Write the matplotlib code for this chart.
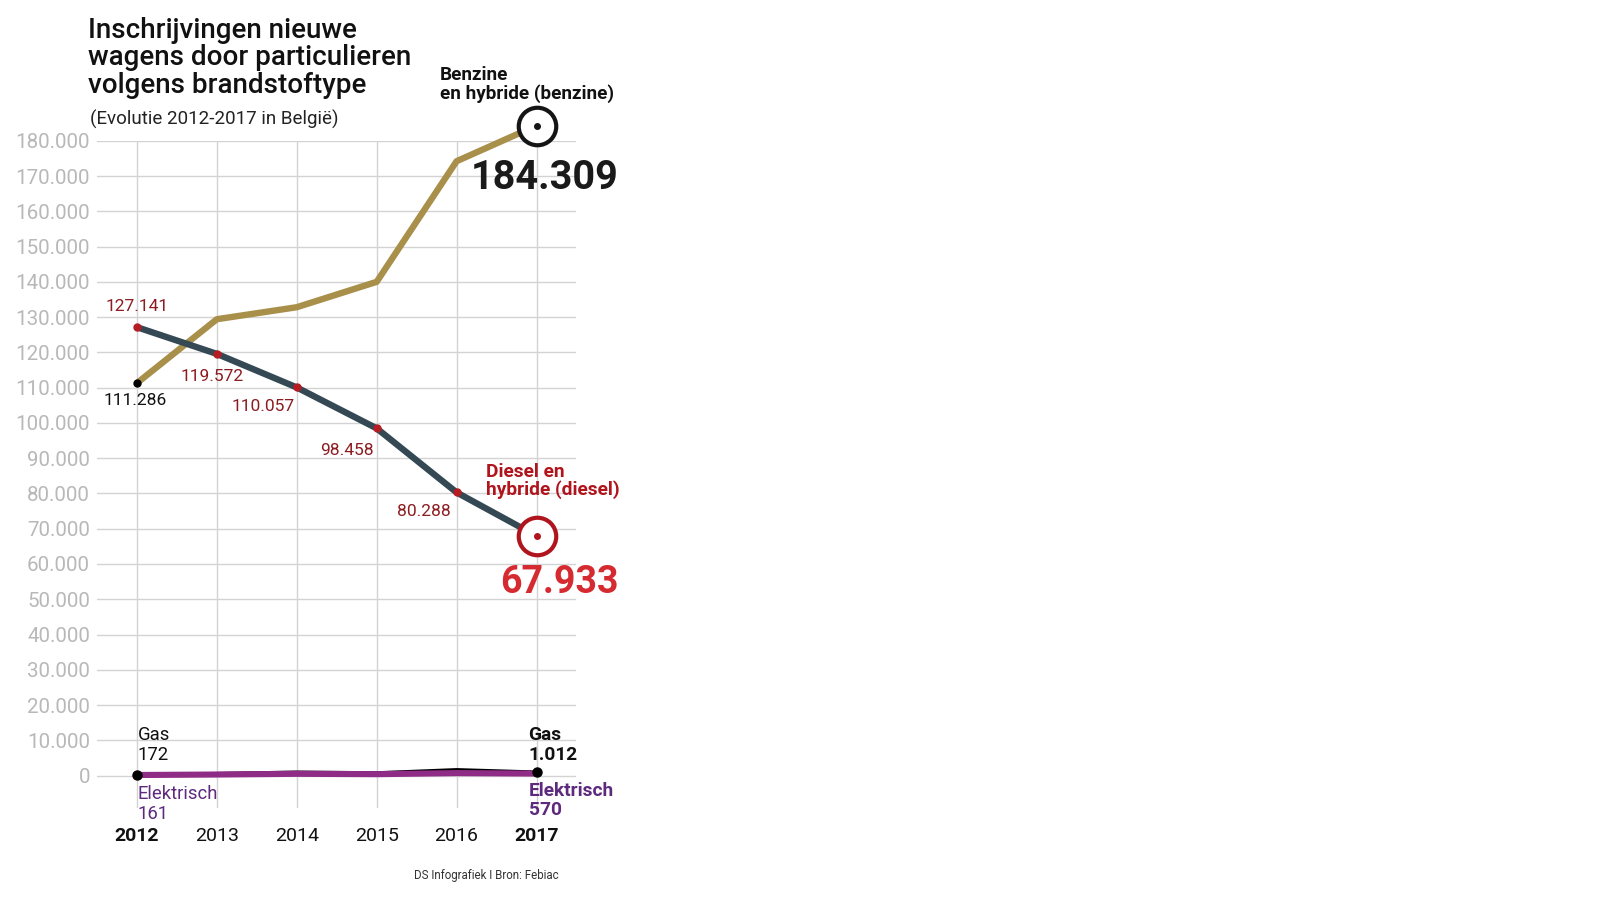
import matplotlib
matplotlib.use("Agg")
import matplotlib.pyplot as plt

plt.rcParams['font.family'] = ['Roboto', 'DejaVu Sans']

# ---------------- data ----------------
years = [2012, 2013, 2014, 2015, 2016, 2017]
benzine = [111286, 129400, 132800, 140000, 174200, 184309]
diesel = [127141, 119572, 110057, 98458, 80288, 67933]
gas = [172, 600, 1000, 800, 1700, 1012]
elektrisch = [161, 300, 500, 400, 700, 570]
diesel_labels = ["127.141", "119.572", "110.057", "98.458", "80.288"]
yticks = list(range(0, 180001, 10000))
ytick_labels = ["0" if v == 0 else f"{v // 1000}.000" for v in yticks]
xtick_labels = [str(y) for y in years]

title = "Inschrijvingen nieuwe\nwagens door particulieren\nvolgens brandstoftype"
subtitle = "(Evolutie 2012-2017 in België)"
source = "DS Infografiek I Bron: Febiac"

# ---------------- colours ----------------
GOLD = "#a8904a"
SLATE = "#344954"
RED_DOT = "#b51d23"
DARK_RED = "#8c1c20"
BRIGHT_RED = "#d42a30"
LABEL_RED = "#b0141c"
PURPLE = "#8e2c86"
PURPLE_TXT = "#5e2a7e"
GRID = "#d3d3d3"
TICK = "#b8b8b8"

fig = plt.figure(figsize=(16, 9), dpi=100)
fig.patch.set_facecolor("white")
ax = fig.add_axes([0.0606, 0.1022, 0.2997, 0.7414])
ax.set_xlim(2011.5, 2017.5)
ax.set_ylim(-9200, 180000)

for s in ax.spines.values():
    s.set_visible(False)

ax.set_yticks(yticks)
ax.set_yticklabels(ytick_labels)
ax.set_xticks(years)
ax.set_xticklabels(xtick_labels)
ax.tick_params(axis="y", length=0, pad=5, labelsize=14.8, labelcolor=TICK)
ax.tick_params(axis="x", length=0, pad=14, labelsize=14, labelcolor="#111111")
for i, lab in enumerate(ax.get_xticklabels()):
    if i in (0, len(years) - 1):
        lab.set_fontweight("bold")
ax.grid(True, color=GRID, linewidth=1.0)
ax.set_axisbelow(True)

# ---------------- lines ----------------
ax.plot(years, benzine, color=GOLD, lw=4.6, solid_capstyle="butt", zorder=3, clip_on=False)
ax.plot(years, diesel, color=SLATE, lw=4.6, solid_capstyle="butt", zorder=4, clip_on=False)
ax.plot(years[:-1], diesel[:-1], ls="none", marker="o", ms=5, color=RED_DOT, zorder=5)
ax.plot(years[0], benzine[0], ls="none", marker="o", ms=5, color="black", zorder=5)
ax.plot(years, gas, color="black", lw=2.2, zorder=3)
ax.plot(years, elektrisch, color=PURPLE, lw=4.4, zorder=4)
ax.plot([years[0], years[-1]], [gas[0], gas[-1]], ls="none", marker="o", ms=6.5,
        color="black", zorder=6)

# end circles
ax.plot(years[-1], benzine[-1], marker="o", ms=27, mfc="white", mec="#151515", mew=3,
        zorder=7, clip_on=False)
ax.plot(years[-1], benzine[-1], marker="o", ms=4, color="#151515", zorder=8, clip_on=False)
ax.plot(years[-1], diesel[-1], marker="o", ms=27, mfc="white", mec=LABEL_RED, mew=3,
        zorder=7, clip_on=False)
ax.plot(years[-1], diesel[-1], marker="o", ms=4, color=LABEL_RED, zorder=8, clip_on=False)

PX = 0.72  # points per pixel

def lab(x, y, txt, dx, dy, **kw):
    ax.annotate(txt, xy=(x, y), xytext=(dx * PX, dy * PX), textcoords="offset points",
                annotation_clip=False, **kw)

# diesel labels
dl_off = [(0, 21), (-5, -23), (-34, -19), (-30, -22), (-33, -19)]
for (x, y, t, (dx, dy)) in zip(years, diesel, diesel_labels, dl_off):
    lab(x, y, t, dx, dy, ha="center", va="center", fontsize=12.5, color=DARK_RED)

lab(years[0], benzine[0], f"{benzine[0]:,}".replace(",", "."), -2, -17,
    ha="center", va="center", fontsize=12.5, color="#111111")

# end labels
lab(years[-1], benzine[-1], "Benzine\nen hybride (benzine)", -97, 23,
    ha="left", va="bottom", fontsize=13.6, fontweight="bold", color="#111111", linespacing=1.0)
lab(years[-1], benzine[-1], f"{benzine[-1]:,}".replace(",", "."), -66, -52,
    ha="left", va="center", fontsize=28.5, fontweight="bold", color="#1a1a1a")
lab(years[-1], diesel[-1], "Diesel en\nhybride (diesel)", -51, 55,
    ha="left", va="center", fontsize=13.8, fontweight="bold", color=LABEL_RED, linespacing=1.0)
lab(years[-1], diesel[-1], f"{diesel[-1]:,}".replace(",", "."), -36, -47,
    ha="left", va="center", fontsize=27, fontweight="bold", color=BRIGHT_RED)

lab(years[0], gas[0], f"Gas\n{gas[0]}", 1, 30, ha="left", va="center",
    fontsize=13.3, color="#111111", linespacing=1.17)
lab(years[0], elektrisch[0], f"Elektrisch\n{elektrisch[0]}", 1, -29, ha="left", va="center",
    fontsize=13.3, color=PURPLE_TXT, linespacing=1.17)
lab(years[-1], gas[-1], "Gas\n" + f"{gas[-1]:,}".replace(",", "."), -8, 27, ha="left",
    va="center", fontsize=13.8, fontweight="bold", color="#111111", linespacing=1.12)
lab(years[-1], elektrisch[-1], f"Elektrisch\n{elektrisch[-1]}", -8, -27, ha="left",
    va="center", fontsize=13.8, fontweight="bold", color=PURPLE_TXT, linespacing=1.12)

# titles
fig.text(88 / 1600, 1 - 17 / 900, title, ha="left", va="top", fontsize=20,
         fontweight="medium", color="#111111", linespacing=1.02)
fig.text(90 / 1600, 1 - 119 / 900, subtitle, ha="left", va="center", fontsize=13.5,
         color="#222222")
fig.text(486 / 1600, 1 - 876 / 900, source, ha="center", va="center", fontsize=8.3,
         color="#333333")

fig.savefig("out.png", dpi=100, facecolor="white")
